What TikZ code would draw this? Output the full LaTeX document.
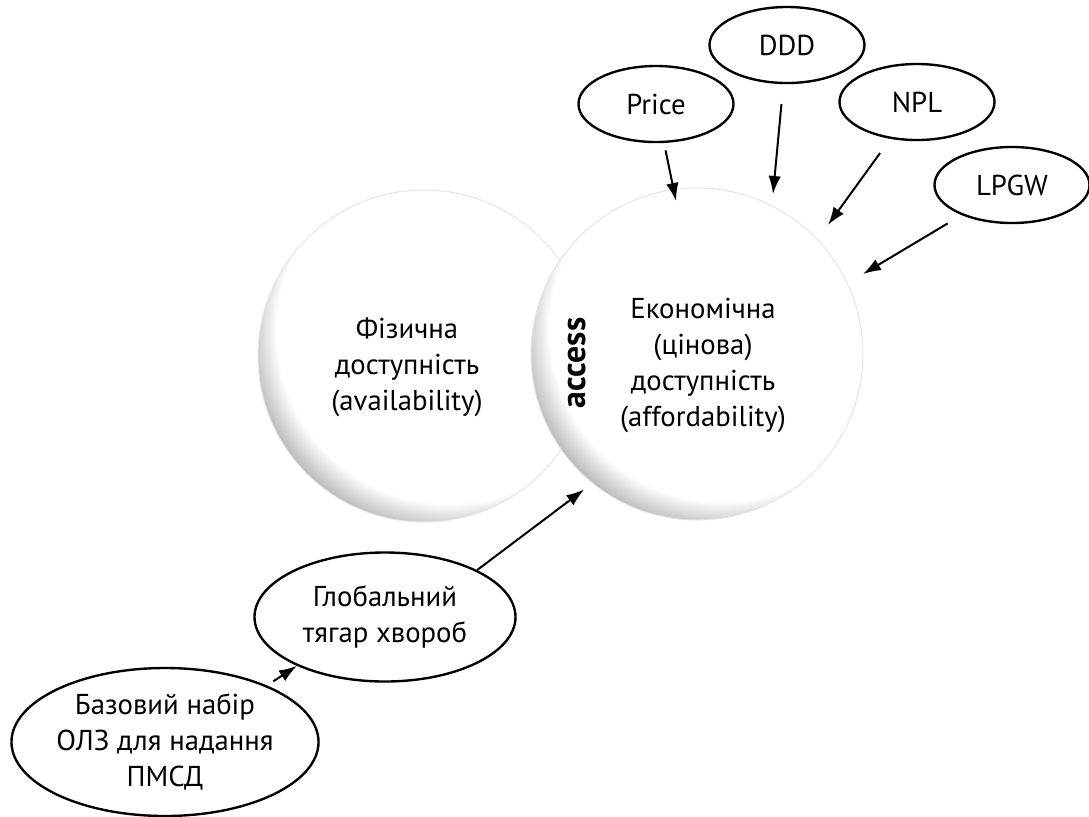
\documentclass[tikz,border=0pt]{standalone}
\usepackage{fontspec}
\setmainfont{PT Sans}
\usetikzlibrary{arrows.meta,shapes.geometric}
\pgfdeclareradialshading{orbshade}{\pgfpoint{8bp}{8bp}}{color(0bp)=(white); color(26bp)=(white); color(30bp)=(black!30); color(50bp)=(black!30)}

\begin{document}
\begin{tikzpicture}[
		x=0.4pt, y=-0.4pt,
		font=\fontsize{11.5}{14.4}\selectfont,
		orb/.style={circle, minimum size=132.8pt, inner sep=0pt, shade, shading=orbshade, draw=black!10, line width=0.4pt},
		factor/.style={ellipse, draw, line width=0.95pt, inner sep=0pt, align=center},
		tag/.style={factor, minimum width=62pt, minimum height=30.4pt},
		link/.style={-{Latex[length=7.2pt,width=5pt]}, line width=0.8pt},
		caption/.style={align=center},
	]
		\useasboundingbox (0,0) rectangle (1089,816);
		
		\node[orb] (physical) at (424,356) {};
		\node[orb] (economic) at (697,354) {};
		\node[caption] (physicalText) at (407,367) {Фізична\\доступність\\(availability)};
		\node[caption] (economicText) at (703,365) {Економічна\\(цінова)\\доступність\\(affordability)};
		\node[rotate=90, font=\fontsize{13.5}{15}\selectfont\bfseries] (accessText) at (577,363) {access};
		
		\node[tag] (price) at (656,104) {Price};
		\node[tag] (ddd) at (787,45) {DDD};
		\node[tag] (npl) at (917,102) {NPL};
		\node[tag] (lpgw) at (1012,185) {LPGW};
		\node[factor, minimum width=104.4pt, minimum height=51.6pt] (global) at (385,617) {Глобальний\\тягар хвороб};
		\node[factor, minimum width=121.6pt, minimum height=59.2pt] (base) at (165,742) {Базовий набір\\ОЛЗ для надання\\ПМСД};
		
		\coordinate (priceTip) at (676,201);
		\coordinate (dddTip) at (773,194);
		\coordinate (nplTip) at (828,225);
		\coordinate (lpgwTip) at (863,274);
		\draw[link, shorten <=3pt] (price) -- (priceTip);
		\draw[link, shorten <=8pt] (ddd) -- (dddTip);
		\draw[link, shorten <=7pt] (npl) -- (nplTip);
		\draw[link, shorten <=6.5pt] (lpgw) -- (lpgwTip);
		\draw[link, shorten <=3pt] (base.29) -- (global.209);
		\draw[link, shorten >=4pt] (global.27) -- (economic.231);
	\end{tikzpicture}
\end{document}
